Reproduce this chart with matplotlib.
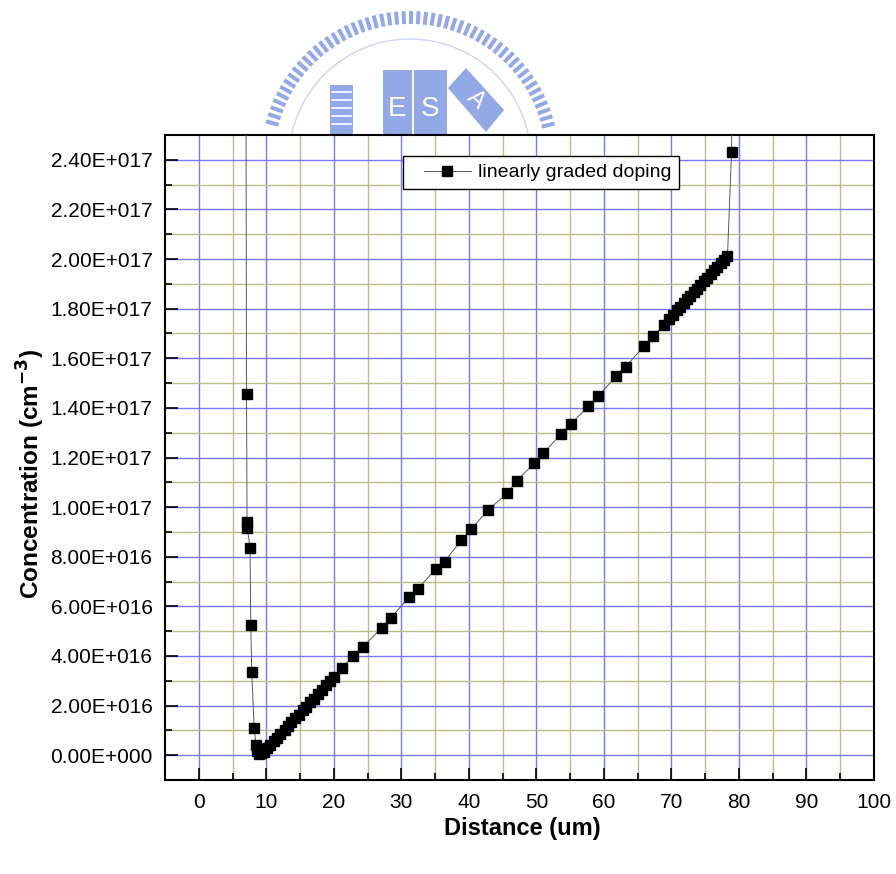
import numpy as np
import matplotlib
matplotlib.use("Agg")
import matplotlib.pyplot as plt
import matplotlib.patches as mpatches
from matplotlib.legend_handler import HandlerLine2D

plt.rcParams['font.family'] = ['Liberation Sans', 'DejaVu Sans']

# data (distance in um, concentration in cm^-3)
dist = [6.98, 7.07, 7.15, 7.2, 7.6, 7.7, 7.85, 8.2, 8.5, 8.6, 8.9, 9.2,
        9.6, 10.1, 10.6, 11.1, 11.6, 12.1, 12.7, 13.2, 13.7, 14.3, 14.8,
        15.4, 15.9, 16.5, 17.0, 17.6, 18.2, 18.8, 19.4, 20.0,
        21.2, 22.9, 24.3, 27.1, 28.4, 31.1, 32.4, 35.1, 36.4, 38.9, 40.3,
        42.9, 45.7, 47.1, 49.7, 51.0, 53.7, 55.1, 57.7, 59.1, 61.8, 63.2,
        65.9, 67.2, 68.9,
        69.6, 70.2, 70.8, 71.3, 71.8, 72.3, 72.8, 73.3, 73.8, 74.3, 74.8,
        75.3, 75.8, 76.3, 76.8, 77.3, 77.8, 78.3, 78.9, 79.1]
conc = [3.0e17, 1.455e17, 9.40e16, 9.15e16, 8.35e16, 5.25e16, 3.35e16,
        1.10e16, 4.0e15, 1.5e15, 0.5e15, 0.8e15,
        1.3e15, 2.7e15, 4.2e15, 5.6e15, 7.1e15, 8.6e15, 1.03e16, 1.18e16,
        1.32e16, 1.50e16, 1.64e16, 1.82e16, 1.96e16, 2.14e16, 2.28e16,
        2.46e16, 2.63e16, 2.81e16, 2.98e16, 3.15e16,
        3.53e16, 4.00e16, 4.36e16, 5.14e16, 5.52e16, 6.36e16, 6.70e16,
        7.50e16, 7.80e16, 8.68e16, 9.10e16, 9.90e16, 1.056e17, 1.107e17,
        1.177e17, 1.217e17, 1.296e17, 1.336e17, 1.406e17, 1.446e17,
        1.527e17, 1.565e17, 1.648e17, 1.689e17, 1.733e17,
        1.759e17, 1.776e17, 1.794e17, 1.808e17, 1.823e17, 1.837e17,
        1.852e17, 1.866e17, 1.881e17, 1.896e17, 1.910e17, 1.925e17,
        1.939e17, 1.954e17, 1.968e17, 1.983e17, 1.997e17, 2.012e17,
        2.43e17, 3.0e17]

x_ticks = [0, 10, 20, 30, 40, 50, 60, 70, 80, 90, 100]
y_ticks = [0, 2e16, 4e16, 6e16, 8e16, 1e17, 1.2e17, 1.4e17, 1.6e17, 1.8e17,
           2e17, 2.2e17, 2.4e17]
y_labels = ['0.00E+000', '2.00E+016', '4.00E+016', '6.00E+016', '8.00E+016',
            '1.00E+017', '1.20E+017', '1.40E+017', '1.60E+017', '1.80E+017',
            '2.00E+017', '2.20E+017', '2.40E+017']

fig = plt.figure(figsize=(8.96, 8.74), dpi=100, facecolor='white')

# watermark logo behind the plot (pixel coords)
lg = fig.add_axes([0, 0, 1, 1], zorder=0)
lg.set_xlim(0, 896)
lg.set_ylim(874, 0)
lg.axis('off')
wm = '#93a8e6'
cx, cy = 410, 160
for th in np.radians(np.arange(-75, 77, 2.9)):
    s, c = np.sin(th), np.cos(th)
    p1 = (cx + 136 * s, cy - 136 * c)
    p2 = (cx + 149 * s, cy - 149 * c)
    dx, dy = 2.0 * c, 2.0 * s
    lg.add_patch(mpatches.Polygon([(p1[0] - dx, p1[1] - dy), (p2[0] - dx, p2[1] - dy),
                                   (p2[0] + dx, p2[1] + dy), (p1[0] + dx, p1[1] + dy)],
                                  color=wm, lw=0))
lg.add_patch(mpatches.Circle((cx, cy), 121, fill=False, ec='#cdd6f0', lw=1))
lg.add_patch(mpatches.Rectangle((330, 85), 23, 50, color=wm, lw=0))
for yy in [92, 100, 108, 116, 124]:
    lg.plot([332, 351], [yy, yy], color='white', lw=1.2)
lg.add_patch(mpatches.Rectangle((383, 70), 29, 65, color=wm, lw=0))
lg.add_patch(mpatches.Rectangle((414, 70), 33, 65, color=wm, lw=0))
lg.add_patch(mpatches.Polygon([(448, 88), (466, 68), (504, 110), (486, 132)], color=wm, lw=0))
lg.text(397, 109, 'E', color='white', fontsize=20, ha='center', va='center')
lg.text(430, 109, 'S', color='white', fontsize=20, ha='center', va='center')
lg.text(476, 100, 'A', color='white', fontsize=17, ha='center', va='center', rotation=-42)

ax = fig.add_axes([165 / 896, 94 / 874, 709 / 896, 645 / 874], zorder=1)
ax.set_facecolor('white')

ax.plot(dist, conc, color='0.35', lw=0.7, marker='s', ms=6.6,
        mfc='black', mec='black', label='linearly graded doping', zorder=3)

ax.set_xlim(-5, 100)
ax.set_ylim(-1e16, 2.5e17)
ax.set_xticks(x_ticks)
ax.set_xticks([5, 15, 25, 35, 45, 55, 65, 75, 85, 95], minor=True)
ax.set_yticks(y_ticks)
ax.set_yticklabels(y_labels)
ax.set_yticks([1e16 * k for k in range(1, 25, 2)], minor=True)

ax.grid(which='major', color='#7878ff', lw=1.0)
ax.grid(which='minor', color='#bcbc86', lw=1.0)
ax.set_axisbelow(True)

ax.tick_params(which='both', direction='in', top=False, right=False,
               labelsize=15, width=1.2, pad=9)
ax.tick_params(which='major', length=9)
ax.tick_params(which='minor', length=5)
for sp in ax.spines.values():
    sp.set_linewidth(1.5)

ax.set_xlabel('Distance (um)', fontsize=17, fontweight='bold')
ax.set_ylabel(r'Concentration (cm$^{\mathbf{-3}}$)', fontsize=17.5, fontweight='bold')
ax.xaxis.set_label_coords(0.5035, -0.057)
ax.yaxis.set_label_coords(-0.166, 0.475)

leg = ax.legend(loc='upper left', bbox_to_anchor=(0.3357, 0.9674), borderaxespad=0,
                fontsize=14, handlelength=3.1, handletextpad=0.36, borderpad=0.4,
                fancybox=False, framealpha=1, edgecolor='black',
                handler_map={matplotlib.lines.Line2D: HandlerLine2D(xpad=0.67)})
leg.get_frame().set_linewidth(1.0)

fig.savefig('out.png', dpi=100, facecolor='white')
